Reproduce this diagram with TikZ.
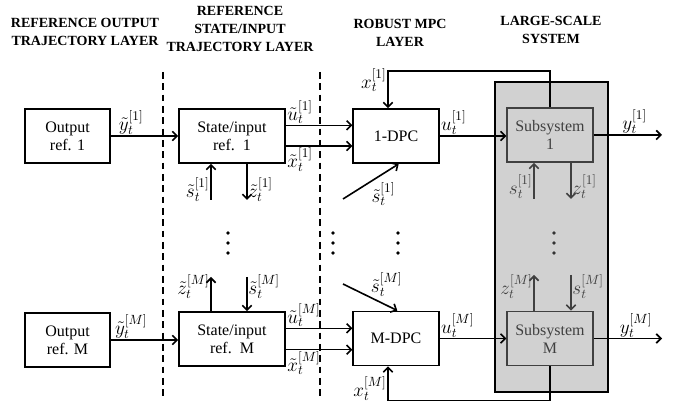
\documentclass[tikz,border=0pt]{standalone}
\usepackage{fontspec}
\setmainfont{Liberation Serif}
\usetikzlibrary{arrows.meta}
\begin{document}
\begin{tikzpicture}[x=0.75pt,y=-0.75pt,line width=1.2pt,
  every node/.style={font=\fontsize{12}{13.5}\selectfont},
  blk/.style={draw,line width=1.4pt,fill=white,minimum width=64pt,minimum height=40.5pt,align=center,inner sep=1pt},
  subblk/.style={blk,draw=black!75,fill=black!18,text=black!75},
  head/.style={font=\bfseries\fontsize{10.5}{13.5}\selectfont,align=center},
  arr/.style={-{Straight Barb[length=3.5pt,width=7pt]}},
  garr/.style={arr,draw=black!75},
  lbl/.style={inner sep=0.5pt,font=\fontsize{14}{16}\selectfont},
  glbl/.style={lbl,text=black!75},
  lay/.style={line width=1.6pt,dash pattern=on 5pt off 3.5pt}]
  \useasboundingbox (0,0) rectangle (683,402);

  % layer titles
  \node[head] (h1) at (85,32) {REFERENCE OUTPUT\\TRAJECTORY LAYER};
  \node[head] (h2) at (240,29) {REFERENCE\\STATE/INPUT\\TRAJECTORY LAYER};
  \node[head] (h3) at (400,33) {ROBUST MPC\\LAYER};
  \node[head] (h4) at (551,30) {LARGE-SCALE\\SYSTEM};

  % layer borders
  \draw[lay] (163,72) -- (163,400);
  \draw[lay] (320,72) -- (320,400);

  % large-scale system
  \node[draw,line width=1.6pt,fill=black!18,minimum width=84.75pt,minimum height=232.5pt] (sys) at (551.5,237) {};

  % blocks, first row
  \node[blk] (out1) at (67.5,136) {Output\\ref. 1};
  \node[blk,minimum width=79.5pt] (st1) at (232,136) {State/input\\ref.~~1};
  \node[blk] (dpc1) at (396,136) {1-DPC};
  \node[subblk] (sub1) at (550,135) {Subsystem\\1};

  % blocks, last row
  \node[blk] (outM) at (67.5,340) {Output\\ref. M};
  \node[blk,minimum width=79.5pt] (stM) at (232,339) {State/input\\ref.~~M};
  \node[blk] (dpcM) at (396,338.5) {M-DPC};
  \node[subblk] (subM) at (550,338.5) {Subsystem\\M};

  % free ends
  \coordinate (ya1) at (662,135);
  \coordinate (yaM) at (662,338.5);
  \coordinate (sa1) at (211,200);
  \coordinate (za1) at (247,200);
  \coordinate (zaM) at (211,277);
  \coordinate (saM) at (247,277);
  \coordinate (da1) at (343,199);
  \coordinate (daM) at (343,284);
  \coordinate (gs1) at (534,199);
  \coordinate (gz1) at (571,199);
  \coordinate (gzM) at (534,275);
  \coordinate (gsM) at (571,275);

  % first row signals
  \draw[arr] (out1) -- node[lbl,pos=0.3,above] (ly1) {$\tilde{y}_t^{[1]}$} (out1 -| st1.west);
  \draw[arr] ([yshift=8pt]st1.east) -- node[lbl,pos=0,above right] (lu1) {$\tilde{u}_t^{[1]}$} ([yshift=8pt]st1.east -| dpc1.west);
  \draw[arr] ([yshift=-7.5pt]st1.east) -- node[lbl,pos=0,below right] (lx1) {$\tilde{x}_t^{[1]}$} ([yshift=-7.5pt]st1.east -| dpc1.west);
  \draw[arr] (dpc1.east) -- node[lbl,pos=0,above right] (lpu1) {$u_t^{[1]}$} (dpc1.east -| sub1.west);
  \draw[arr] (sub1.east) -- node[lbl,pos=0.6,above] (lpy1) {$y_t^{[1]}$} (ya1);
  \draw[arr] (sub1.north) -- ++(0,-36) -| node[lbl,pos=0.62,left] (lfx1) {$x_t^{[1]}$} ([xshift=-6pt]dpc1.north);
  \draw[arr] (sa1) -- node[lbl,pos=0.3,left] (ls1) {$\tilde{s}_t^{[1]}$} (sa1 |- st1.south);
  \draw[arr] (za1 |- st1.south) -- node[lbl,pos=0.7,right] (lz1) {$\tilde{z}_t^{[1]}$} (za1);
  \draw[arr] (da1) -- node[lbl,pos=0.5,below right,inner sep=0pt] (lds1) {$\tilde{s}_t^{[1]}$} ([xshift=2pt]dpc1.south);
  \draw[garr] (gs1) -- node[glbl,pos=0.34,left] (lgs1) {$s_t^{[1]}$} (gs1 |- sub1.south);
  \draw[garr] (gz1 |- sub1.south) -- node[glbl,pos=0.66,right] (lgz1) {$z_t^{[1]}$} (gz1);

  % last row signals
  \draw[arr] (outM) -- node[lbl,pos=0.3,above] (lyM) {$\tilde{y}_t^{[M]}$} (outM -| stM.west);
  \draw[arr] ([yshift=8pt]stM.east) -- node[lbl,pos=0,above right] (luM) {$\tilde{u}_t^{[M]}$} ([yshift=8pt]stM.east -| dpcM.west);
  \draw[arr] ([yshift=-8pt]stM.east) -- node[lbl,pos=0,below right] (lxM) {$\tilde{x}_t^{[M]}$} ([yshift=-8pt]stM.east -| dpcM.west);
  \draw[arr] (dpcM.east) -- node[lbl,pos=0,above right] (lpuM) {$u_t^{[M]}$} (dpcM.east -| subM.west);
  \draw[arr] (subM.east) -- node[lbl,pos=0.62,above] (lpyM) {$y_t^{[M]}$} (yaM);
  \draw[arr] (subM.south) -- ++(0,34) -| node[lbl,pos=0.68,left] (lfxM) {$x_t^{[M]}$} ([xshift=-6pt]dpcM.south);
  \draw[arr] (zaM |- stM.north) -- node[lbl,pos=0.72,left] (lzM) {$\tilde{z}_t^{[M]}$} (zaM);
  \draw[arr] (saM) -- node[lbl,pos=0.28,right] (lsM) {$\tilde{s}_t^{[M]}$} (saM |- stM.north);
  \draw[arr] (daM) -- node[lbl,pos=0.5,above right,inner sep=0pt] (ldsM) {$\tilde{s}_t^{[M]}$} ([xshift=1pt]dpcM.north);
  \draw[garr] (gzM |- subM.north) -- node[glbl,pos=0.68,left] (lgzM) {$z_t^{[M]}$} (gzM);
  \draw[garr] (gsM) -- node[glbl,pos=0.32,right] (lgsM) {$s_t^{[M]}$} (gsM |- subM.north);

  % dots between the rows
  \foreach \x in {228,333,398}
    \foreach \y in {233,243,253}
      \fill (\x,\y) circle (1.4pt);
  \foreach \y in {233,243,253}
    \fill[black!80] (554,\y) circle (1.4pt);
\end{tikzpicture}
\end{document}
